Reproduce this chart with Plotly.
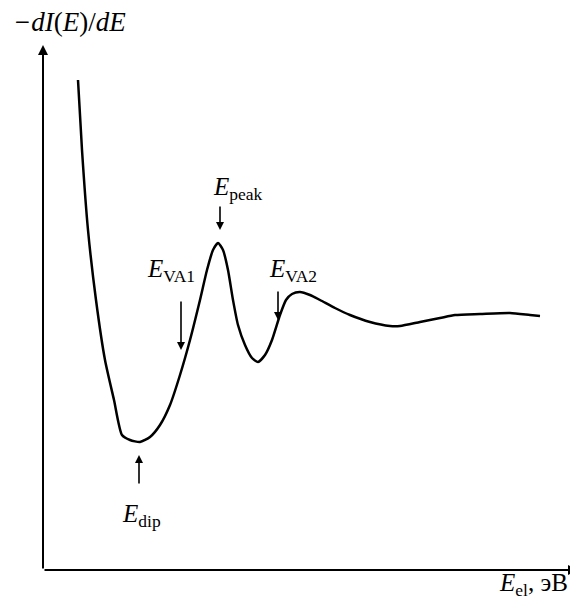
import plotly.graph_objects as go

# curve (arbitrary units: x = energy, y = -dI/dE)
energy = [35, 39, 45, 53, 62, 71, 79, 87, 97, 107, 117, 127, 137, 147, 157, 164, 170, 175, 180, 185,
          190, 195, 202, 209, 215, 222, 229, 237, 243, 249, 257, 267, 277, 292, 307, 327, 347, 357, 377,
          397, 412, 437, 467, 487, 497]
signal = [490, 420, 340, 270, 210, 170, 135, 130, 128, 133, 145, 165, 195, 230, 270, 300, 320, 327, 320,
          300, 270, 245, 225, 212, 208, 215, 230, 255, 270, 276, 278, 275, 270, 262, 255, 248, 244, 244,
          248, 252, 255, 256, 257, 255, 254]

fig = go.Figure()
fig.add_trace(go.Scatter(x=energy, y=signal, mode="lines",
                         line=dict(color="black", width=2.5, shape="spline", smoothing=0.6),
                         hoverinfo="skip", showlegend=False))

font = dict(family="Liberation Serif, Times New Roman, serif", size=25, color="black")
ann = []
# axes arrows
ann.append(dict(x=0, y=525, ax=0, ay=0, xref="x", yref="y", axref="x", ayref="y", text="",
                showarrow=True, arrowhead=2, arrowsize=1, arrowwidth=2, arrowcolor="black"))
ann.append(dict(x=535, y=0, ax=0, ay=0, xref="x", yref="y", axref="x", ayref="y", text="",
                showarrow=True, arrowhead=2, arrowsize=1, arrowwidth=2, arrowcolor="black"))

# labelled arrows: (label, arrow x, arrow tail y, arrow head y, text x, text y)
labels = ["<i>E</i><sub>peak</sub>", "<i>E</i><sub>VA1</sub>", "<i>E</i><sub>VA2</sub>", "<i>E</i><sub>dip</sub>"]
arrow_x = [177, 138, 235, 96]
arrow_tail = [365, 270, 280, 85]
arrow_head = [340, 220, 250, 115]
text_x = [195, 128, 250, 98]
text_y = [382, 300, 300, 55]
for lab, axx, t, h, tx, ty in zip(labels, arrow_x, arrow_tail, arrow_head, text_x, text_y):
    ann.append(dict(x=axx, y=h, ax=axx, ay=t, xref="x", yref="y", axref="x", ayref="y", text="",
                    showarrow=True, arrowhead=2, arrowsize=1, arrowwidth=1.6, arrowcolor="black"))
    ann.append(dict(x=tx, y=ty, xref="x", yref="y", text=lab, showarrow=False, font=font))

ann.append(dict(x=-0.06, y=1.044, xref="paper", yref="paper", text="<i>−dI</i>(<i>E</i>)/<i>dE</i>",
                showarrow=False, font=dict(font, size=27), xanchor="left", yanchor="middle"))
ann.append(dict(x=0.985, y=-0.028, xref="paper", yref="paper", text="<i>E</i><sub>el</sub>, эВ",
                showarrow=False, font=font, xanchor="right", yanchor="middle"))
fig.update_layout(annotations=ann)

fig.update_xaxes(range=[0, 535], visible=False, fixedrange=True)
fig.update_yaxes(range=[0, 525], visible=False, fixedrange=True)
fig.update_layout(width=570, height=593, margin=dict(l=35, r=0, t=37, b=31),
                  plot_bgcolor="white", paper_bgcolor="white")
fig.write_html("out.html")
